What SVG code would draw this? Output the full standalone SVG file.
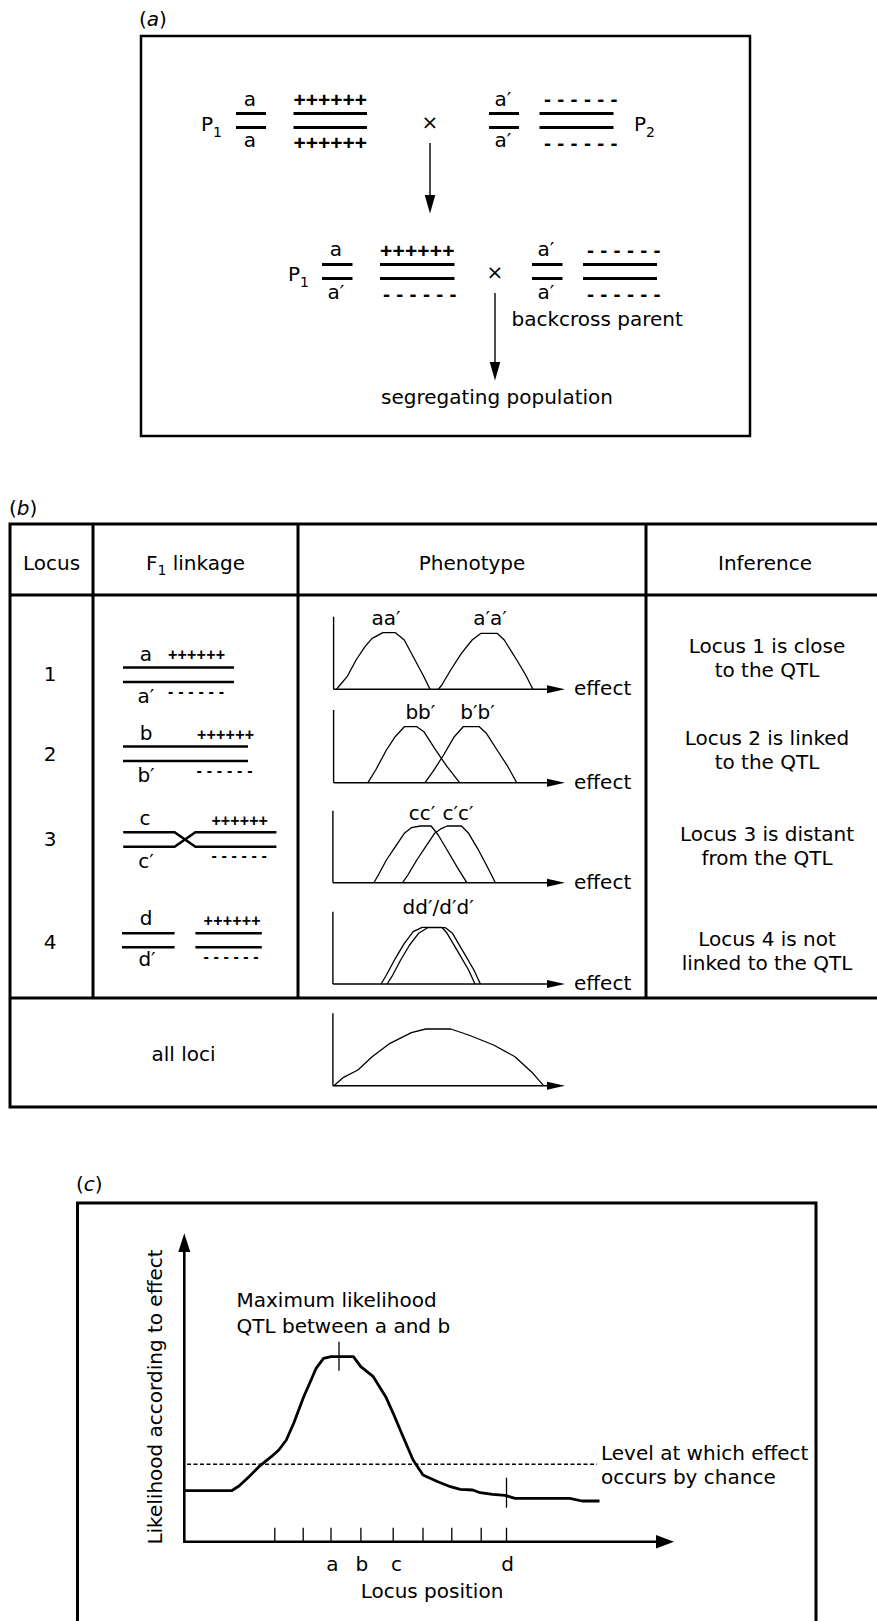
<svg xmlns="http://www.w3.org/2000/svg" width="877" height="1621" viewBox="0 0 877 1621">
<defs>
<style>
.t{font-family:"DejaVu Sans","Open Sans",sans-serif;font-size:20px;fill:#000}
.m{text-anchor:middle}
.s{font-size:14px}
.pl{font-family:"Liberation Sans",Arial,sans-serif;font-weight:bold;fill:#000}
.ch{stroke:#000;stroke-width:3;fill:none}
.ch2{stroke:#000;stroke-width:2.6;fill:none}
.fr{stroke:#000;stroke-width:3;fill:none}
.ax{stroke:#000;stroke-width:1.4;fill:none}
.crv{stroke:#000;stroke-width:1.3;fill:none;stroke-linejoin:round}
.big{stroke:#000;stroke-width:2.8;fill:none;stroke-linejoin:round}
.bax{stroke:#000;stroke-width:2.6;fill:none}
.tk{stroke:#000;stroke-width:1.3;fill:none}
</style>
</defs>
<rect width="877" height="1621" fill="#fff"/>

<!-- ================= Panel (a) ================= -->
<g id="panel-a">
  <text class="t" x="139" y="26">(<tspan font-style="italic">a</tspan>)</text>
  <rect x="141" y="36" width="609" height="400" fill="none" stroke="#000" stroke-width="2.5"/>
</g>

<g id="a-p1-parent">
  <text class="t" x="201" y="131">P<tspan class="s" dy="6">1</tspan></text>
  <text class="t m" x="250" y="106">a</text>
  <line class="ch" x1="236" y1="113.5" x2="266" y2="113.5"/>
  <line class="ch" x1="236" y1="127.5" x2="266" y2="127.5"/>
  <text class="t m" x="250" y="147">a</text>
  <text class="pl" x="293.5" y="106.5" font-size="21" textLength="73.5" lengthAdjust="spacing">++++++</text>
  <line class="ch" x1="293.5" y1="113.5" x2="367" y2="113.5"/>
  <line class="ch" x1="293.5" y1="127.5" x2="367" y2="127.5"/>
  <text class="pl" x="293.5" y="149.5" font-size="21" textLength="73.5" lengthAdjust="spacing">++++++</text>
</g>

<g id="a-cross-1">
  <text class="t m" x="430" y="129" font-size="16">×</text>
</g>

<g id="a-p2-parent">
  <text class="t m" x="503" y="106">a′</text>
  <line class="ch" x1="489" y1="113.5" x2="519" y2="113.5"/>
  <line class="ch" x1="489" y1="127.5" x2="519" y2="127.5"/>
  <text class="t m" x="503" y="147">a′</text>
  <text class="pl" x="544" y="106" font-size="21" textLength="73.5" lengthAdjust="spacing">------</text>
  <line class="ch" x1="539.5" y1="113.5" x2="613.5" y2="113.5"/>
  <line class="ch" x1="539.5" y1="127.5" x2="613.5" y2="127.5"/>
  <text class="pl" x="544" y="150" font-size="21" textLength="73.5" lengthAdjust="spacing">------</text>
  <text class="t" x="634" y="131">P<tspan class="s" dy="6">2</tspan></text>
</g>

<g id="a-f1">
  <text class="t" x="288" y="281">P<tspan class="s" dy="6">1</tspan></text>
  <text class="t m" x="336" y="256">a</text>
  <line class="ch" x1="322" y1="264.5" x2="352.5" y2="264.5"/>
  <line class="ch" x1="322" y1="278.5" x2="352.5" y2="278.5"/>
  <text class="t m" x="336" y="298.5">a′</text>
  <text class="pl" x="380" y="257.5" font-size="21" textLength="74.5" lengthAdjust="spacing">++++++</text>
  <line class="ch" x1="380" y1="264.5" x2="454.5" y2="264.5"/>
  <line class="ch" x1="380" y1="278.5" x2="454.5" y2="278.5"/>
  <text class="pl" x="383" y="300.5" font-size="21" textLength="73.5" lengthAdjust="spacing">------</text>
</g>

<g id="a-cross-2">
  <text class="t m" x="495" y="279" font-size="16">×</text>
</g>

<g id="a-backcross-parent">
  <text class="t m" x="546" y="256">a′</text>
  <line class="ch" x1="532" y1="264.5" x2="562.5" y2="264.5"/>
  <line class="ch" x1="532" y1="278.5" x2="562.5" y2="278.5"/>
  <text class="t m" x="546" y="298.5">a′</text>
  <text class="pl" x="587" y="256.5" font-size="21" textLength="73.5" lengthAdjust="spacing">------</text>
  <line class="ch" x1="583" y1="264.5" x2="657" y2="264.5"/>
  <line class="ch" x1="583" y1="278.5" x2="657" y2="278.5"/>
  <text class="pl" x="587" y="300.5" font-size="21" textLength="73.5" lengthAdjust="spacing">------</text>
  <text class="t" x="511.5" y="326">backcross parent</text>
</g>

<g id="a-segregating-population">
  <text class="t m" x="497" y="404">segregating population</text>
</g>

<g id="a-connectors">
  <line class="ax" x1="430" y1="143" x2="430" y2="197"/>
  <polygon points="430,213.5 424.7,195 435.3,195" fill="#000"/>
  <line class="ax" x1="495" y1="293" x2="495" y2="364"/>
  <polygon points="495,380.5 489.7,362 500.3,362" fill="#000"/>
</g>

<!-- ================= Panel (b) ================= -->
<g id="panel-b">
  <text class="t" x="9" y="515">(<tspan font-style="italic">b</tspan>)</text>
  <path class="fr" d="M877,524 H10 V1107 H877"/>
  <line class="fr" x1="10" y1="595" x2="877" y2="595"/>
  <line class="fr" x1="10" y1="998" x2="877" y2="998"/>
  <line class="fr" x1="93" y1="524" x2="93" y2="998"/>
  <line class="fr" x1="298" y1="524" x2="298" y2="998"/>
  <line class="fr" x1="646" y1="524" x2="646" y2="998"/>
  <text class="t m" x="51.5" y="570">Locus</text>
  <text class="t m" x="195.5" y="570">F<tspan class="s" dy="5">1</tspan><tspan dy="-5"> linkage</tspan></text>
  <text class="t m" x="472" y="570">Phenotype</text>
  <text class="t m" x="765" y="570">Inference</text>
</g>

<g id="b-locus-1">
  <text class="t m" x="50" y="681">1</text>
  <text class="t m" x="146" y="660.5">a</text>
  <text class="pl" x="168" y="660.3" font-size="16" textLength="57" lengthAdjust="spacing">++++++</text>
  <line class="ch2" x1="123" y1="667.5" x2="234" y2="667.5"/>
  <line class="ch2" x1="123" y1="682" x2="234" y2="682"/>
  <text class="t m" x="146" y="703">a′</text>
  <text class="pl" x="168" y="696.5" font-size="16" textLength="56" lengthAdjust="spacing">------</text>
  <line class="ax" x1="333.6" y1="616.7" x2="333.6" y2="689.3"/>
  <line class="ax" x1="333.6" y1="689.3" x2="549" y2="689.3"/>
  <polygon points="565,689.3 547,685.3 547,693.3" fill="#000"/>
  <text class="t" x="574" y="695">effect</text>
  <text class="t m" x="386" y="625">aa′</text>
  <text class="t m" x="490" y="625">a′a′</text>
  <polyline class="crv" points="336.4,689.3 340,685 347.1,676.7 356.1,660 365,646.7 372.1,638.3 382.9,632.7 395.4,632.7 404.3,640 415,660 423.9,676.7 430,689.3"/>
  <polyline class="crv" points="438.2,689.3 441.8,685 450.7,670 461.4,653.3 472.1,640 481,633.3 497.1,633.3 504.3,640 516.8,660 525.7,675 532.9,689.3"/>
  <text class="t m" x="767" y="653">Locus 1 is close</text>
  <text class="t m" x="767" y="677">to the QTL</text>
</g>

<g id="b-locus-2">
  <text class="t m" x="50" y="761">2</text>
  <text class="t m" x="146" y="739.5">b</text>
  <text class="pl" x="197" y="739.6" font-size="16" textLength="57" lengthAdjust="spacing">++++++</text>
  <line class="ch2" x1="123" y1="746.5" x2="248" y2="746.5"/>
  <line class="ch2" x1="123" y1="761" x2="248" y2="761"/>
  <text class="t m" x="146" y="781.5">b′</text>
  <text class="pl" x="196.5" y="776.3" font-size="16" textLength="56" lengthAdjust="spacing">------</text>
  <line class="ax" x1="333.6" y1="710" x2="333.6" y2="782.7"/>
  <line class="ax" x1="333.6" y1="782.7" x2="549" y2="782.7"/>
  <polygon points="565,782.7 547,778.7 547,786.7" fill="#000"/>
  <text class="t" x="574" y="788.5">effect</text>
  <text class="t m" x="420.4" y="718.5">bb′</text>
  <text class="t m" x="477.5" y="718.5">b′b′</text>
  <polyline class="crv" points="367.9,782.7 375.7,770 386.4,750 395.2,736.7 404.3,726.7 416.8,726.7 423.9,731.7 434.6,748.3 447.1,766.7 459.6,782.7"/>
  <polyline class="crv" points="425,782.7 432.9,771.7 443.6,755 454.3,736.7 463.2,726.7 479.3,726.7 486.4,733.3 497.1,750 507.9,766.7 516.8,782.7"/>
  <text class="t m" x="767" y="744.5">Locus 2 is linked</text>
  <text class="t m" x="767" y="768.5">to the QTL</text>
</g>

<g id="b-locus-3">
  <text class="t m" x="50" y="846">3</text>
  <text class="t m" x="145" y="825">c</text>
  <text class="pl" x="211.4" y="825.6" font-size="16" textLength="56.5" lengthAdjust="spacing">++++++</text>
  <polyline class="ch2" points="123.2,832.3 174.6,832.3 195.4,846.7 276.4,846.7"/>
  <polyline class="ch2" points="123.2,846.7 174.6,846.7 195.4,832.3 276.4,832.3"/>
  <text class="t m" x="146" y="868">c′</text>
  <text class="pl" x="211.4" y="861.3" font-size="16" textLength="55.4" lengthAdjust="spacing">------</text>
  <line class="ax" x1="332.9" y1="810.7" x2="332.9" y2="882.7"/>
  <line class="ax" x1="332.9" y1="882.7" x2="549" y2="882.7"/>
  <polygon points="565,882.7 547,878.7 547,886.7" fill="#000"/>
  <text class="t" x="574" y="888.5">effect</text>
  <text class="t m" x="422" y="819.5">cc′</text>
  <text class="t m" x="458" y="819.5">c′c′</text>
  <polyline class="crv" points="373.9,882.7 379.3,873.3 386.4,860 395.4,846.7 404.3,833.3 411.4,827.7 420.4,826 431.1,826 438.2,835 447.1,850 457.9,868.3 466.8,882.7"/>
  <polyline class="crv" points="402.5,882.7 407.9,875 416.8,860 425.7,846.7 434.6,833.3 441.8,828.3 447.1,826 461.4,826 468.6,833.3 477.5,848.3 486.4,865 495.4,882.7"/>
  <text class="t m" x="767" y="841">Locus 3 is distant</text>
  <text class="t m" x="767" y="865">from the QTL</text>
</g>

<g id="b-locus-4">
  <text class="t m" x="50" y="949">4</text>
  <text class="t m" x="146" y="925">d</text>
  <text class="pl" x="203.6" y="925.6" font-size="16" textLength="57" lengthAdjust="spacing">++++++</text>
  <line class="ch2" x1="122" y1="933.3" x2="174.6" y2="933.3"/>
  <line class="ch2" x1="122" y1="947.3" x2="174.6" y2="947.3"/>
  <line class="ch2" x1="195.4" y1="933.3" x2="261.8" y2="933.3"/>
  <line class="ch2" x1="195.4" y1="947.3" x2="261.8" y2="947.3"/>
  <text class="t m" x="147" y="966">d′</text>
  <text class="pl" x="203.6" y="962.3" font-size="16" textLength="55" lengthAdjust="spacing">------</text>
  <line class="ax" x1="332.9" y1="911.7" x2="332.9" y2="984"/>
  <line class="ax" x1="332.9" y1="984" x2="549" y2="984"/>
  <polygon points="565,984 547,980 547,988" fill="#000"/>
  <text class="t" x="574" y="990">effect</text>
  <text class="t m" x="438.2" y="913.5">dd′/d′d′</text>
  <polyline class="crv" points="381.1,984 386.4,975 395.4,958.3 404.3,943.3 413.2,931.7 422.1,927.3 441.8,927.3 447.1,933.3 457.9,951.7 468.6,970 475,984"/>
  <polyline class="crv" points="387.1,984 391.8,976.7 400.7,960 409.6,945 418.6,933.3 427.5,927.7 445.4,927.7 452.5,933.3 463.2,951.7 473.9,970 480.4,984"/>
  <text class="t m" x="767" y="946">Locus 4 is not</text>
  <text class="t m" x="767" y="970">linked to the QTL</text>
</g>

<g id="b-all-loci">
  <text class="t m" x="183.5" y="1061">all loci</text>
  <line class="ax" x1="332.9" y1="1013.3" x2="332.9" y2="1085.7"/>
  <line class="ax" x1="332.9" y1="1085.7" x2="549" y2="1085.7"/>
  <polygon points="565,1085.7 547,1081.7 547,1089.7" fill="#000"/>
  <polyline class="crv" points="333.9,1085.7 343.6,1077.3 357.9,1070 372.1,1056.7 390,1043.3 411.4,1032.7 425.7,1029 450.7,1029 468.6,1035 493.6,1045 515,1056.7 532.9,1073.3 543.6,1085.7"/>
</g>

<!-- ================= Panel (c) ================= -->
<g id="panel-c">
  <text class="t" x="76" y="1191">(<tspan font-style="italic">c</tspan>)</text>
  <path class="fr" d="M77.5,1621 V1203 H816 V1621"/>
</g>

<g id="c-axes">
  <line class="bax" x1="184.3" y1="1250" x2="184.3" y2="1541.7"/>
  <polygon points="184.3,1233.3 178.3,1252 190.3,1252" fill="#000"/>
  <line class="bax" x1="183" y1="1541.7" x2="658" y2="1541.7"/>
  <polygon points="674,1541.7 656,1535 656,1548.4" fill="#000"/>
  <text class="t m" x="162" y="1397" transform="rotate(-90 162 1397)">Likelihood according to effect</text>
  <text class="t m" x="432" y="1598">Locus position</text>
</g>

<g id="c-ticks">
  <path class="tk" d="M274.8,1527.7V1541.7 M303.2,1527.7V1541.7 M331,1527.7V1541.7 M360.9,1527.7V1541.7 M393.2,1527.7V1541.7 M423,1527.7V1541.7 M451.8,1527.7V1541.7 M481.2,1527.7V1541.7 M506.5,1527.7V1541.7"/>
  <text class="t m" x="332.5" y="1571">a</text>
  <text class="t m" x="361.8" y="1571">b</text>
  <text class="t m" x="396.6" y="1571">c</text>
  <text class="t m" x="507.5" y="1571">d</text>
</g>

<g id="c-chance-level">
  <line x1="187" y1="1464.3" x2="597" y2="1464.3" stroke="#000" stroke-width="1.5" stroke-dasharray="4 2.5"/>
  <text class="t" x="601" y="1459.5">Level at which effect</text>
  <text class="t" x="601" y="1483.5">occurs by chance</text>
</g>

<g id="c-likelihood-curve">
  <polyline class="big" points="185.3,1490.7 231.6,1490.7 239,1486 249,1476.7 258.9,1466.7 271.3,1456.7 278.8,1450 286.3,1440 293.7,1423.3 303.7,1396.7 311.1,1380 316.1,1368.3 323.5,1358.3 331,1356.7 353.4,1356.7 360.8,1366.7 373.3,1376.7 385.7,1396.7 393.2,1413.3 403.1,1436.7 413.1,1460 423,1475 437.9,1481.7 450.4,1486.7 460.3,1489.3 472.7,1490 480.2,1492.7 492.6,1494.3 505,1495.3 515,1498.3 569.7,1498.3 582.1,1501 599.5,1501"/>
  <line class="tk" x1="339" y1="1341.7" x2="339" y2="1370.7"/>
  <line class="tk" x1="506.5" y1="1477.7" x2="506.5" y2="1507.7"/>
</g>

<g id="c-maximum-label">
  <text class="t" x="236.5" y="1306.5">Maximum likelihood</text>
  <text class="t" x="236.5" y="1333">QTL between a and b</text>
</g>
</svg>
